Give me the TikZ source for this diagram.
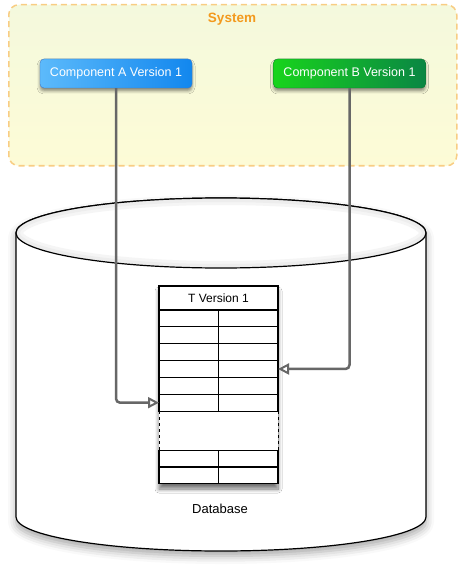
\documentclass[tikz,border=0pt]{standalone}
\usepackage{fontspec}
\setmainfont{Liberation Sans}
\usetikzlibrary{arrows.meta,shadows.blur}

\definecolor{sysfilltop}{HTML}{F4F9DD}
\definecolor{sysfillbot}{HTML}{FDFBD6}
\definecolor{sysline}{HTML}{F8CD84}
\definecolor{systext}{HTML}{F39A1E}
\definecolor{blueleft}{HTML}{5CBAFB}
\definecolor{blueright}{HTML}{1287EE}
\definecolor{blueline}{HTML}{3F78C8}
\definecolor{greenleft}{HTML}{18D41C}
\definecolor{greenright}{HTML}{0A8644}
\definecolor{greenline}{HTML}{0E7A30}
\definecolor{wire}{HTML}{676767}

\tikzset{
  component/.style={rounded corners=4pt, minimum width=152pt, minimum height=29pt,
    inner sep=0pt, text=white, font=\fontsize{12.5}{14}\selectfont,
    blur shadow={shadow xshift=0pt, shadow yshift=-3pt, shadow blur radius=3pt, shadow opacity=45}},
  cell/.style={draw, line width=1.2pt, minimum width=59.5pt, minimum height=16.85pt,
    inner sep=0pt, outer sep=0pt, anchor=north west},
  link/.style={draw=wire, line width=2.5pt, rounded corners=4pt,
    -{Triangle[open, length=11pt, width=11pt, fill=white, line width=2pt]}}
}

\begin{document}
\begin{tikzpicture}[x=1pt, y=-1pt]
  \useasboundingbox (0,0) rectangle (461,572);
  % system frame
  \node[draw=sysline, dash pattern=on 6pt off 4pt, line width=1.5pt, rounded corners=10pt,
    top color=sysfilltop, bottom color=sysfillbot, minimum width=448pt, minimum height=161pt,
    inner sep=0pt, anchor=north west] (system) at (8,4) {};
  \node[font=\bfseries\fontsize{13.5}{16}\selectfont, text=systext] (systitle) at (232,19) {System};
  \node[component, draw=blueline, left color=blueleft, right color=blueright] (compa) at (116,73.5) {Component A Version 1};
  \node[component, draw=greenline, left color=greenleft, right color=greenright] (compb) at (349.5,73.5) {Component B Version 1};
  % database
  \draw[line width=1.2pt, fill=white,
    blur shadow={shadow xshift=0pt, shadow yshift=-5pt, shadow blur radius=8pt, shadow opacity=35}]
    (16,233) -- (16,517) arc[start angle=180, end angle=0, x radius=205, y radius=34]
    -- (426,233) arc[start angle=0, end angle=-180, x radius=205, y radius=35] -- cycle;
  \begin{scope}
    \clip (221,233) ellipse[x radius=205, y radius=35];
    \draw[line width=14pt, black!4] (221,233) ellipse[x radius=205, y radius=35];
    \draw[line width=8pt, black!7] (221,233) ellipse[x radius=205, y radius=35];
  \end{scope}
  \draw[line width=1.2pt] (221,233) ellipse[x radius=205, y radius=35];
  % table
  \fill[white, blur shadow={shadow xshift=0pt, shadow yshift=-5pt, shadow blur radius=4pt,
    shadow blur steps=10, shadow opacity=55}]
    (159,286) rectangle (278,484);
  \node[draw, line width=1.2pt, minimum width=119pt, minimum height=24pt, inner sep=0pt,
    outer sep=0pt, anchor=north west, font=\fontsize{12}{14}\selectfont] (thead) at (159,286) {T Version 1};
  \foreach \i in {1,...,6} {
    \node[cell] (r\i a) at (159,{310+(\i-1)*16.85}) {};
    \node[cell] (r\i b) at (218.5,{310+(\i-1)*16.85}) {};
  }
  \node[minimum width=119pt, minimum height=39pt, inner sep=0pt, outer sep=0pt,
    anchor=north west] (gap) at (159,411.1) {};
  \draw[dashed, line width=1pt] (gap.north west) -- (gap.south west)
    (gap.north east) -- (gap.south east);
  \foreach \i in {1,2} {
    \node[cell] (s\i a) at (159,{450.1+(\i-1)*16.85}) {};
    \node[cell] (s\i b) at (218.5,{450.1+(\i-1)*16.85}) {};
  }
  \node[font=\fontsize{13}{15}\selectfont] (dblabel) at (220,509) {Database};
  % links
  \draw[link] (compa) |- (r6a.west);
  \draw[link] (compb) |- (r4b.east);
\end{tikzpicture}
\end{document}
